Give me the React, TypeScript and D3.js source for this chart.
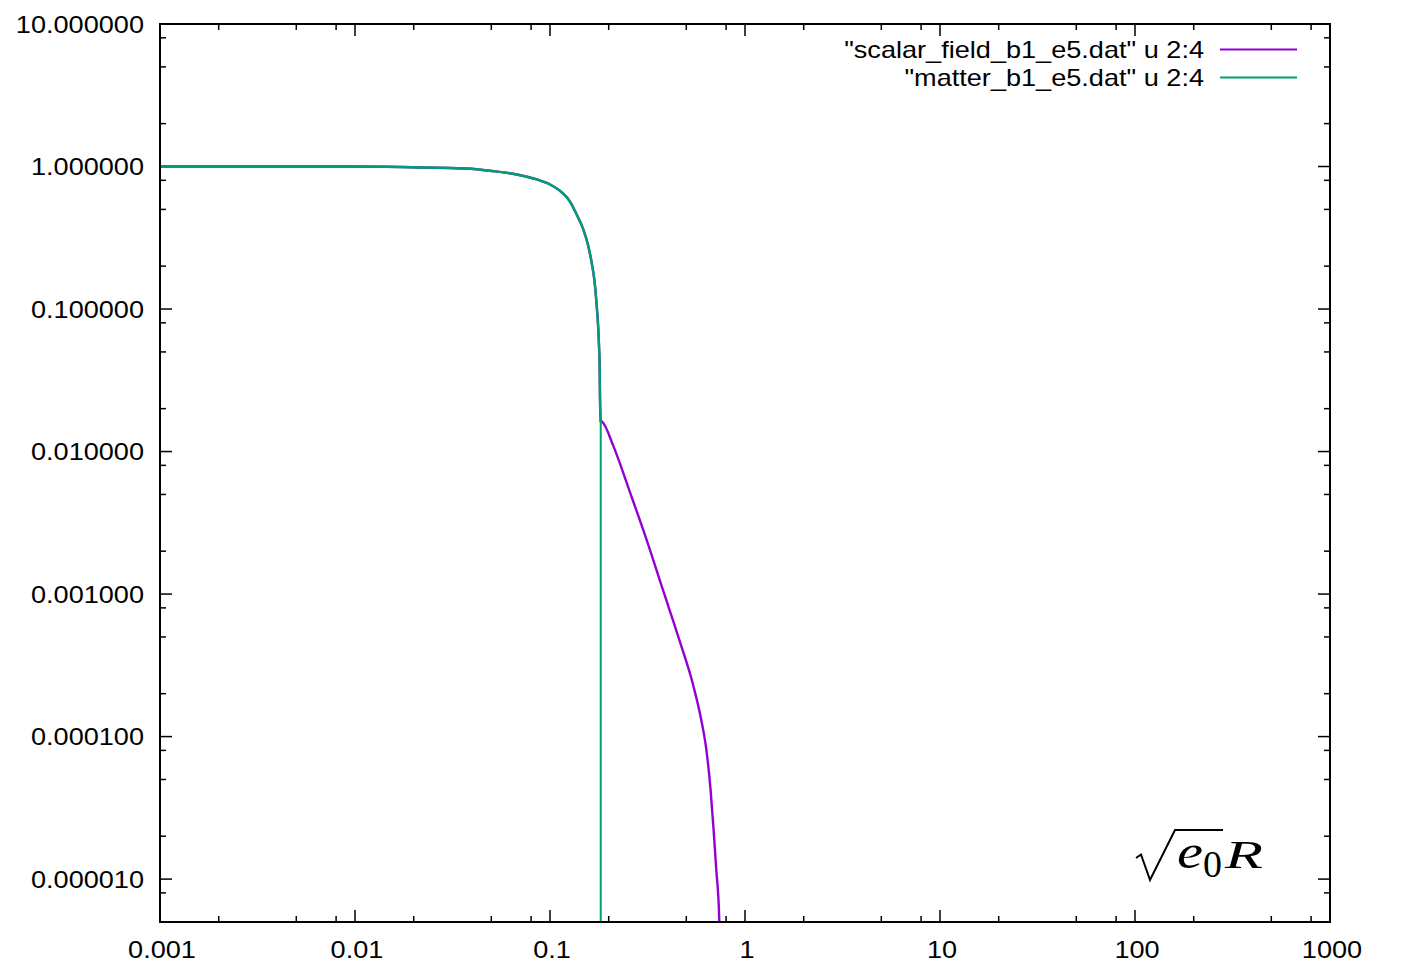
import React from "react";
import * as d3 from "d3";

// Shared part of both curves (x = sqrt(e0) R, y = column 4)
const sharedX = [0.001, 0.002893, 0.01, 0.01702, 0.0374, 0.0505, 0.0675, 0.0855, 0.1, 0.1152, 0.1266, 0.137, 0.1482, 0.1572, 0.1636, 0.1695, 0.1736, 0.1769, 0.1784, 0.1799, 0.1805, 0.182];
const sharedY = [1.0, 1.0, 0.9995, 0.992, 0.968, 0.93, 0.879, 0.811, 0.748, 0.657, 0.568, 0.461, 0.362, 0.2764, 0.2114, 0.1531, 0.105, 0.0721, 0.055, 0.036, 0.0233, 0.0164];

// Scalar field tail (starts at the last shared point)
const scalarTailX = [0.182, 0.1854, 0.2112, 0.2572, 0.3133, 0.381, 0.464, 0.543, 0.5949, 0.6348, 0.6653, 0.6896, 0.7118, 0.738, 0.745];
const scalarTailY = [0.0164, 0.01615, 0.01096, 0.00517, 0.002393, 0.001051, 0.000462, 0.000228, 0.0001333, 7.95e-5, 4.31e-5, 2.26e-5, 1.185e-5, 5.19e-6, 2e-6];

// Matter tail (drops to zero)
const matterTailX = [0.182, 0.182];
const matterTailY = [0.0164, 1e-9];

const xTicks = [0.001, 0.01, 0.1, 1, 10, 100, 1000];
const xTickLabels = ["0.001", "0.01", "0.1", "1", "10", "100", "1000"];
const yTicks = [10, 1, 0.1, 0.01, 0.001, 0.0001, 0.00001];
const minorMultipliers = [2, 5, 8];

const legendLabels = ['"scalar_field_b1_e5.dat" u 2:4', '"matter_b1_e5.dat" u 2:4'];
const colors = ["#9400d3", "#009e73"];

const W = 1403, H = 965;
const L = 160, R = 1330, T = 24, B = 922;
const SX = 1.13;
const FONT = "'Liberation Sans', Arial, Helvetica, sans-serif";

export default function App() {
  const x = d3.scaleLog().domain([0.001, 1000]).range([L, R]);
  const y = d3.scaleLog().domain([5e-6, 10]).range([B, T]);

  const zip = (xs: number[], ys: number[]) => xs.map((v, i) => [v, ys[i]] as [number, number]);
  const shared = zip(sharedX, sharedY);
  const scalarTail = zip(scalarTailX, scalarTailY);
  const matterTail = zip(matterTailX, matterTailY);

  const smooth = d3
    .line<[number, number]>()
    .x((d) => x(d[0]))
    .y((d) => y(d[1]))
    .curve(d3.curveMonotoneX);
  const straight = d3
    .line<[number, number]>()
    .x((d) => x(d[0]))
    .y((d) => y(d[1]));

  const xMinor: number[] = [];
  for (let e = -3; e < 3; e++) for (const m of minorMultipliers) xMinor.push(m * Math.pow(10, e));
  const yMinor: number[] = [];
  for (let e = -6; e < 1; e++)
    for (const m of minorMultipliers) {
      const v = m * Math.pow(10, e);
      if (v > 5e-6 * 1.01 && v < 10) yMinor.push(v);
    }

  const fmt = d3.format(".6f");
  const tk = { stroke: "#000", strokeWidth: 1.5 };

  return (
    <svg width={W} height={H} style={{ position: "absolute", left: 0, top: 0, background: "#fff" }}>
      <defs>
        <clipPath id="plotclip">
          <rect x={L} y={T} width={R - L} height={B - T} />
        </clipPath>
      </defs>
      <rect x={0} y={0} width={W} height={H} fill="#fff" />

      {/* ticks */}
      {xTicks.map((v) => (
        <g key={"xt" + v}>
          <line x1={x(v)} x2={x(v)} y1={B} y2={B - 12} {...tk} />
          <line x1={x(v)} x2={x(v)} y1={T} y2={T + 12} {...tk} />
        </g>
      ))}
      {xMinor.map((v) => (
        <g key={"xm" + v}>
          <line x1={x(v)} x2={x(v)} y1={B} y2={B - 6} {...tk} />
          <line x1={x(v)} x2={x(v)} y1={T} y2={T + 6} {...tk} />
        </g>
      ))}
      {yTicks.map((v) => (
        <g key={"yt" + v}>
          <line x1={L} x2={L + 12} y1={y(v)} y2={y(v)} {...tk} />
          <line x1={R} x2={R - 12} y1={y(v)} y2={y(v)} {...tk} />
        </g>
      ))}
      {yMinor.map((v) => (
        <g key={"ym" + v}>
          <line x1={L} x2={L + 6} y1={y(v)} y2={y(v)} {...tk} />
          <line x1={R} x2={R - 6} y1={y(v)} y2={y(v)} {...tk} />
        </g>
      ))}

      {/* curves */}
      <g clipPath="url(#plotclip)" fill="none" strokeLinejoin="round" strokeLinecap="round">
        <path d={smooth(shared) || ""} stroke={colors[0]} strokeWidth={2.4} />
        <path d={smooth(scalarTail) || ""} stroke={colors[0]} strokeWidth={2.4} />
        <path d={smooth(shared) || ""} stroke={colors[1]} strokeWidth={2.4} />
        <path d={straight(matterTail) || ""} stroke={colors[1]} strokeWidth={2} />
      </g>

      {/* frame */}
      <rect x={L} y={T} width={R - L} height={B - T} fill="none" stroke="#000" strokeWidth={2} />

      {/* tick labels */}
      {yTicks.map((v) => (
        <text
          key={"yl" + v}
          transform={`translate(144,${y(v) + 8.5}) scale(${SX},1)`}
          textAnchor="end"
          fontFamily={FONT}
          fontSize={24}
          fill="#000"
        >
          {fmt(v)}
        </text>
      ))}
      {xTicks.map((v, i) => (
        <text
          key={"xl" + v}
          transform={`translate(${x(v) + 2},958) scale(${SX},1)`}
          textAnchor="middle"
          fontFamily={FONT}
          fontSize={24}
          fill="#000"
        >
          {xTickLabels[i]}
        </text>
      ))}

      {/* legend */}
      {legendLabels.map((lab, i) => {
        const ly = 49.5 + i * 28;
        return (
          <g key={"lg" + i}>
            <text
              transform={`translate(1204,${ly + 8.5}) scale(${SX},1)`}
              textAnchor="end"
              fontFamily={FONT}
              fontSize={24}
              fill="#000"
            >
              {lab}
            </text>
            <line x1={1220} x2={1297} y1={ly} y2={ly} stroke={colors[i]} strokeWidth={2} />
          </g>
        );
      })}

      {/* axis label sqrt(e0) R */}
      <path
        d="M1136,858 L1141,854.5 L1150,880 L1175,830 L1223,830"
        fill="none"
        stroke="#000"
        strokeWidth={2}
        strokeLinejoin="miter"
      />
      <text
        x={1177}
        y={868}
        fontFamily="'Liberation Serif', 'DejaVu Serif', serif"
        fontStyle="italic"
        fontSize={48}
        textLength={26}
        lengthAdjust="spacingAndGlyphs"
        fill="#000"
      >
        e
      </text>
      <text
        x={1203}
        y={877}
        fontFamily="'Liberation Serif', 'DejaVu Serif', serif"
        fontSize={38}
        textLength={19}
        lengthAdjust="spacingAndGlyphs"
        fill="#000"
      >
        0
      </text>
      <text
        x={1225}
        y={868}
        fontFamily="'Liberation Serif', 'DejaVu Serif', serif"
        fontStyle="italic"
        fontSize={40}
        textLength={38}
        lengthAdjust="spacingAndGlyphs"
        fill="#000"
      >
        R
      </text>
    </svg>
  );
}
